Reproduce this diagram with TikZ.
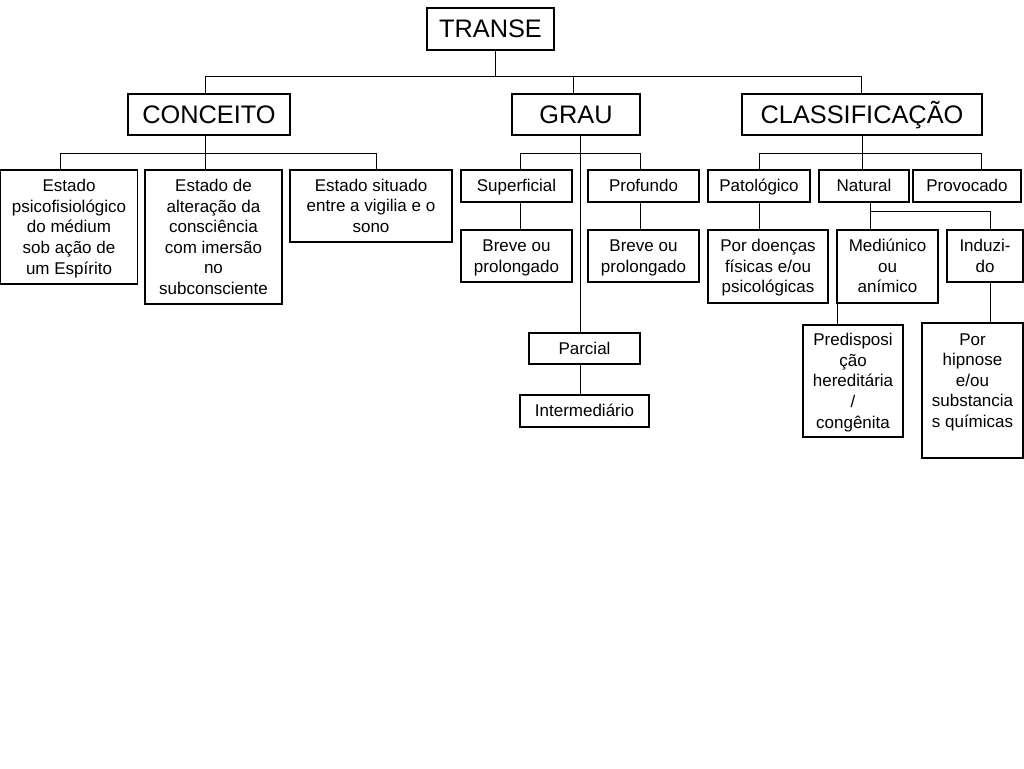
\documentclass[tikz,border=0pt]{standalone}
\usepackage{fontspec}
\setmainfont{Liberation Sans}
\newcommand{\topstrut}{\rule{0pt}{0.95em}}
\newcommand{\botstrut}{\rule[-0.25em]{0pt}{0.25em}}
\newcommand{\T}{\rule{0pt}{0.95em}}
\newcommand{\B}{\rule[-0.25em]{0pt}{0.25em}}
\begin{document}
\begin{tikzpicture}[x=0.75pt,y=-0.75pt,
  box/.style={draw, line width=0.8pt, inner sep=0pt, align=center, rectangle,
    execute at begin node=\topstrut, execute at end node=\botstrut},
  big/.style={box, font=\fontsize{19}{23}\selectfont},
  small/.style={box, font=\fontsize{12.75}{15.4}\selectfont},
  multi/.style={small},
  conn/.style={line width=0.7pt}]
\useasboundingbox (0,0) rectangle (1024,768);
% top levels
\node[big, minimum width=127*0.75pt, minimum height=42*0.75pt] (transe) at (490.5,29) {TRANSE};
\node[big, minimum width=162*0.75pt, minimum height=41*0.75pt] (conceito) at (209,114.5) {CONCEITO};
\node[big, minimum width=128*0.75pt, minimum height=41*0.75pt] (grau) at (576,114.5) {GRAU};
\node[big, minimum width=240*0.75pt, minimum height=41*0.75pt] (classif) at (862,114.5) {CLASSIFICAÇÃO};
% conceito children
\node[multi, minimum width=137*0.75pt, minimum height=114*0.75pt] (c1) at (69,227) {\T Estado\\psicofisiológico\\do médium\\sob ação de\\um Espírito\B};
\node[multi, minimum width=137*0.75pt, minimum height=134*0.75pt] (c2) at (213.5,237) {\T Estado de\\alteração da\\consciência\\com imersão\\no\\subconsciente\B};
\node[multi, minimum width=162*0.75pt, minimum height=72*0.75pt] (c3) at (371,206) {\T Estado situado\\entre a vigilia e o\\sono\B};
% grau children
\node[small, minimum width=111*0.75pt, minimum height=32*0.75pt] (sup) at (516.5,186) {Superficial};
\node[small, minimum width=111*0.75pt, minimum height=32*0.75pt] (prof) at (643.5,186) {Profundo};
\node[multi, minimum width=111*0.75pt, minimum height=52*0.75pt] (breve1) at (516.5,256) {\T Breve ou\\prolongado\B};
\node[multi, minimum width=111*0.75pt, minimum height=52*0.75pt] (breve2) at (643.5,256) {\T Breve ou\\prolongado\B};
\node[small, minimum width=111*0.75pt, minimum height=31*0.75pt] (parcial) at (584.5,348.5) {Parcial};
\node[small, minimum width=129*0.75pt, minimum height=32*0.75pt] (inter) at (584.5,411) {Intermediário};
% classificacao children
\node[small, minimum width=102*0.75pt, minimum height=32*0.75pt] (pato) at (759,186) {Patológico};
\node[small, minimum width=90*0.75pt, minimum height=32*0.75pt] (natural) at (864,186) {Natural};
\node[small, minimum width=108*0.75pt, minimum height=32*0.75pt] (provoc) at (967,186) {Provocado};
\node[multi, minimum width=120*0.75pt, minimum height=73*0.75pt] (doencas) at (768,266.5) {\T Por doenças\\físicas e/ou\\psicológicas\B};
\node[multi, minimum width=101*0.75pt, minimum height=73*0.75pt] (mediun) at (887.5,266.5) {\T Mediúnico\\ou\\anímico\B};
\node[multi, minimum width=76*0.75pt, minimum height=52*0.75pt] (induz) at (985,256) {\T Induzi-\\do\B};
\node[multi, minimum width=100*0.75pt, minimum height=112*0.75pt] (predis) at (853,381) {\T Predisposi\\ção\\hereditária\\/\\congênita\B};
\node[multi, minimum width=101*0.75pt, minimum height=135*0.75pt] (hipnose) at (972.5,390.5) {\T Por\\hipnose\\e/ou\\substancia\\s químicas\\\B};
% bus coordinates
\coordinate (t0) at (495,76);
\coordinate (tL) at (205,76);
\coordinate (tG) at (573,76);
\coordinate (tR) at (861,76);
\coordinate (cL) at (60,153);
\coordinate (cM) at (205,153);
\coordinate (cR) at (376,153);
\coordinate (gL) at (520,153);
\coordinate (gR) at (640,153);
\coordinate (gM) at (580,153);
\coordinate (kL) at (759,153);
\coordinate (kM) at (862,153);
\coordinate (kR) at (981,153);
\coordinate (nL) at (870,211);
\coordinate (nR) at (990,211);
\coordinate (mX) at (837,310);
% connectors
\draw[conn] (t0 |- transe.south) -- (t0);
\draw[conn] (tL |- conceito.north) -- (tL) -- (tR) -- (tR |- classif.north);
\draw[conn] (tG) -- (tG |- grau.north);
% conceito
\draw[conn] (cM |- conceito.south) -- (cM);
\draw[conn] (cL |- c1.north) -- (cL) -- (cR) -- (cR |- c3.north);
\draw[conn] (cM) -- (cM |- c2.north);
% grau
\draw[conn] (gM |- grau.south) -- (gM |- parcial.north);
\draw[conn] (gL |- sup.north) -- (gL) -- (gR) -- (gR |- prof.north);
\draw[conn] (gL |- sup.south) -- (gL |- breve1.north);
\draw[conn] (gR |- prof.south) -- (gR |- breve2.north);
\draw[conn] (gM |- parcial.south) -- (gM |- inter.north);
% classificacao
\draw[conn] (kM |- classif.south) -- (kM);
\draw[conn] (kL |- pato.north) -- (kL) -- (kR) -- (kR |- provoc.north);
\draw[conn] (kM) -- (kM |- natural.north);
\draw[conn] (kL |- pato.south) -- (kL |- doencas.north);
\draw[conn] (nL |- natural.south) -- (nL |- mediun.north);
\draw[conn] (nL) -- (nR) -- (nR |- induz.north);
\draw[conn] (mX |- mediun.south) -- (mX |- predis.north);
\draw[conn] (nR |- induz.south) -- (nR |- hipnose.north);
\end{tikzpicture}
\end{document}
